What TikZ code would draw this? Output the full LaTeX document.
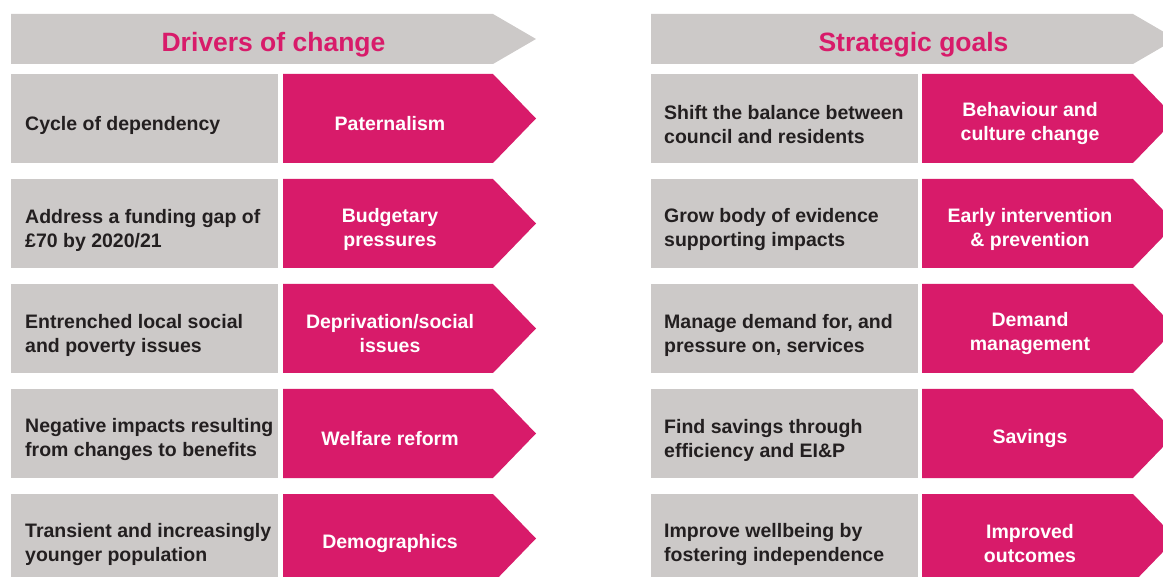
\documentclass[tikz,border=0pt]{standalone}
\usepackage{fontspec}
\setmainfont{Liberation Sans}
\usepackage{tikz}

\definecolor{panelgrey}{HTML}{CCC9C8}
\definecolor{panelpink}{HTML}{D81B6A}
\definecolor{textdark}{HTML}{231F20}

\tikzset{
	title/.style = {text = panelpink, font = \fontsize{26.5}{30}\selectfont\bfseries},
	causelabel/.style = {anchor = west, inner sep = 0, align = left, text = textdark,
		font = \fontsize{19.5}{24}\selectfont\bfseries},
	pinklabel/.style = {align = center, text = white, font = \fontsize{19.5}{24}\selectfont\bfseries}
}

\begin{document}
\begin{tikzpicture}[x = 1pt, y = -1pt]
		\useasboundingbox (0,0) rectangle (1163,577);
		\clip (0,0) rectangle (1163,577);

		% headers
		\fill[panelgrey] (11,14) -- (493,14) -- (536,39) -- (493,64) -- (11,64) -- cycle;
		\node[title] (drivers) at (273.5,44.5) {Drivers of change};
		\fill[panelgrey] (651,14) -- (1133,14) -- (1176,39) -- (1133,64) -- (651,64) -- cycle;
		\node[title] (goals) at (913.5,44.5) {Strategic goals};

		% drivers of change
		\foreach \y/\cause/\driver [count = \i] in {
			74/{Cycle of dependency}/{Paternalism},
			179/{Address a funding gap of\\£70 by 2020/21}/{Budgetary\\pressures},
			284/{Entrenched local social\\and poverty issues}/{Deprivation/social\\issues},
			389/{Negative impacts resulting\\from changes to benefits}/{Welfare reform},
			494/{Transient and increasingly\\younger population}/{Demographics}} {
			\fill[panelgrey] (11,\y) rectangle ++(267,89);
			\node[causelabel] (cause\i) at (25,\y+51) {\cause};
			\fill[panelpink] (283,\y) -- ++(210,0) -- ++(43,44.5) -- ++(-43,44.5) -- ++(-210,0) -- cycle;
			\node[pinklabel] (driver\i) at (390,\y+50) {\driver};
		}

		% strategic goals
		\foreach \y/\aim/\goal [count = \i] in {
			74/{Shift the balance between\\council and residents}/{Behaviour and\\culture change},
			179/{Grow body of evidence\\supporting impacts}/{Early intervention\\\& prevention},
			284/{Manage demand for, and\\pressure on, services}/{Demand\\management},
			389/{Find savings through\\efficiency and EI\&P}/{Savings},
			494/{Improve wellbeing by\\fostering independence}/{Improved\\outcomes}} {
			\fill[panelgrey] (651,\y) rectangle ++(267,89);
			\node[causelabel] (aim\i) at (664,\y+51) {\aim};
			\fill[panelpink] (922,\y) -- ++(211,0) -- ++(43,44.5) -- ++(-43,44.5) -- ++(-211,0) -- cycle;
			\node[pinklabel] (goal\i) at (1030,\y+50) {\goal};
		}
	\end{tikzpicture}
\end{document}
